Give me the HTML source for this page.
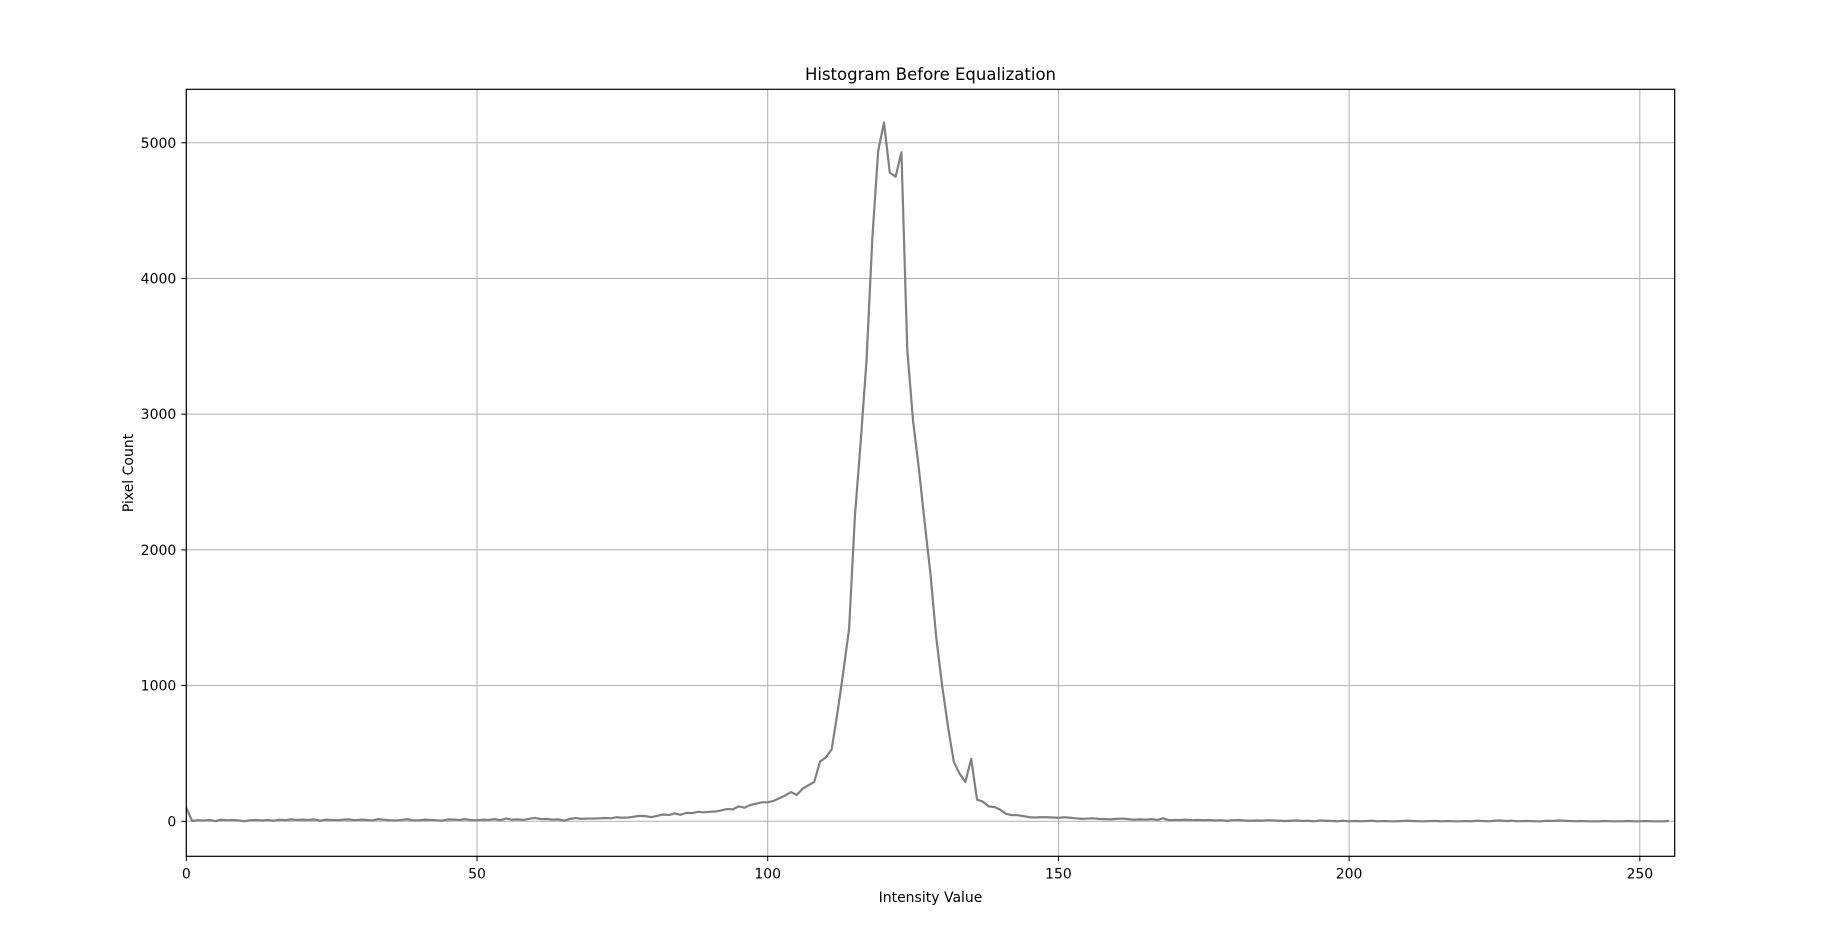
<!DOCTYPE html>
<html><head><meta charset="utf-8"><style>
html,body{margin:0;padding:0;background:#fff;}
svg{display:block;font-family:"DejaVu Sans","Liberation Sans",sans-serif;}
</style></head><body>
<svg id="chart" width="1844" height="929" viewBox="0 0 1844 929" xmlns="http://www.w3.org/2000/svg">
<rect width="1844" height="929" fill="#fff"/>
<g id="grid"></g>
<g id="series"></g>
<rect x="186.3" y="89.3" width="1488.4" height="767" fill="none" stroke="#000" stroke-width="1.2"/>
<g id="xticks"></g>
<g id="yticks"></g>
<text x="930.5" y="80" text-anchor="middle" font-size="16.5" fill="#000">Histogram Before Equalization</text>
<text x="930.5" y="902" text-anchor="middle" font-size="14" fill="#000">Intensity Value</text>
<text x="133" y="473" text-anchor="middle" font-size="14" fill="#000" transform="rotate(-90 133 473)">Pixel Count</text>
</svg>
<script>
const xTicks = [0, 50, 100, 150, 200, 250];
const yTicks = [0, 1000, 2000, 3000, 4000, 5000];
const counts = [
100,2,8,6,10,2,12,8,10,6,
0,8,10,6,10,4,12,8,14,10,
12,10,14,4,12,10,8,12,14,8,
12,10,6,16,12,8,6,10,16,6,
8,12,10,8,4,14,12,10,16,8,
8,12,10,16,8,20,12,14,10,18,
25,16,18,12,14,4,18,24,18,20,
20,22,24,22,30,26,28,34,40,38,
30,40,50,46,58,48,62,60,70,66,
70,72,80,90,88,110,100,120,130,140,
140,150,170,190,215,195,240,265,290,440,
470,530,800,1100,1420,2250,2800,3400,4300,4940,
5150,4780,4750,4930,3480,2950,2600,2200,1820,1350,
1000,700,440,350,290,460,160,145,110,105,
85,55,45,45,38,30,28,30,30,28,
25,
30,26,22,18,20,22,18,16,14,18,
20,16,12,14,12,16,10,22,8,10,
10,12,8,10,8,10,6,8,4,8,
10,6,4,6,4,8,6,4,2,4,
6,2,4,0,6,4,2,0,4,0,
2,0,2,4,0,2,0,0,2,4,
2,0,0,2,2,0,2,0,0,2,
0,4,2,0,4,6,2,4,0,2,
2,0,0,4,2,6,4,2,0,2,
0,0,0,2,0,0,0,2,0,0,
2,0,0,0,2
];
const NS = 'http://www.w3.org/2000/svg';
const X0 = 186.3, X1 = 1674.7, Y0 = 856.3, Y1 = 89.3;
const xMin = 0, xMax = 256, yMin = -258, yMax = 5394;
function sx(v){ return X0 + (v - xMin) / (xMax - xMin) * (X1 - X0); }
function sy(v){ return Y0 - (v - yMin) / (yMax - yMin) * (Y0 - Y1); }
function mk(tag, attrs, parent){
  const e = document.createElementNS(NS, tag);
  for (const k in attrs) e.setAttribute(k, attrs[k]);
  parent.appendChild(e); return e;
}
const grid = document.getElementById('grid');
const xg = document.getElementById('xticks');
const yg = document.getElementById('yticks');
xTicks.forEach(t => {
  const x = sx(t);
  const gl = mk('line', {x1:x, x2:x, y1:Y1, y2:Y0, stroke:'#b0b0b0', 'stroke-width':1}, grid);
  
  
  const tk = mk('line', {x1:x, x2:x, y1:Y0, y2:Y0+5, stroke:'#000', 'stroke-width':1}, xg);
  
  
  const lb = mk('text', {x:x, y:Y0+22, 'text-anchor':'middle', 'font-size':14, fill:'#000'}, xg);
  lb.textContent = t;
  
  
});
yTicks.forEach(t => {
  const y = sy(t);
  const gl = mk('line', {x1:X0, x2:X1, y1:y, y2:y, stroke:'#b0b0b0', 'stroke-width':1}, grid);
  
  
  const tk = mk('line', {x1:X0-5, x2:X0, y1:y, y2:y, stroke:'#000', 'stroke-width':1}, yg);
  
  
  const lb = mk('text', {x:X0-10, y:y+5, 'text-anchor':'end', 'font-size':14, fill:'#000'}, yg);
  lb.textContent = t;
  
  
});
const pts = counts.map((v, i) => sx(i).toFixed(2) + ',' + sy(v).toFixed(2)).join(' ');
const line = mk('polyline', {points:pts, fill:'none', stroke:'#808080', 'stroke-width':2.2, 'stroke-linejoin':'round'}, document.getElementById('series'));


</script>
</body></html>
